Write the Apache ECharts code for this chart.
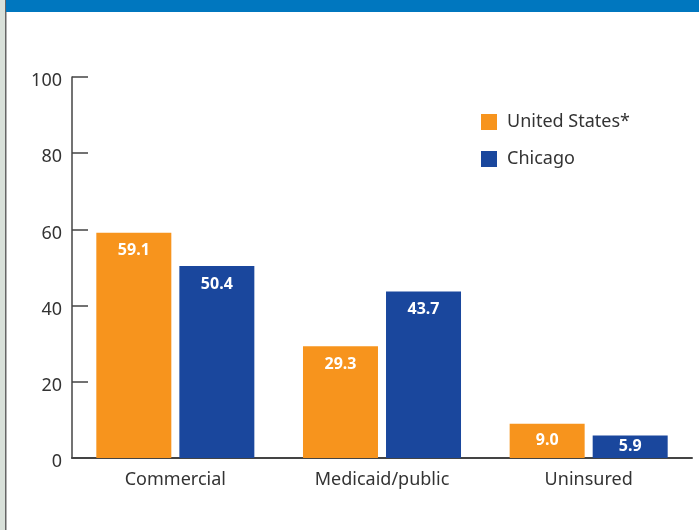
<!DOCTYPE html>
<html>
  <head>
    <meta charset="UTF-8">
    <title>Insurance coverage</title>
    <script src="https://cdn.jsdelivr.net/npm/echarts@6/dist/echarts.min.js"></script>
    <style>
    * {
      margin: 0;
      padding: 0;
    }
    </style>
  </head>
  <body>
    <div id="main" style="width: 699px;height: 530px"></div>
    <script>
// data
var categories = ['Commercial', 'Medicaid/public', 'Uninsured']
var usValues = [59.1, 29.3, 9.0]
var chicagoValues = [50.4, 43.7, 5.9]
var seriesNames = ['United States*', 'Chicago']

var font = 'Noto Sans'
var orange = '#F7941D'
var blue = '#1A479D'
var axisColor = '#444'

var myChart = echarts.init(document.getElementById('main'))

// short bars get their label centred, tall ones near the top
function toBarData(values) {
  return values.map(v => ({
    value: v,
    label: v < 15 ? { position: 'inside' } : {}
  }))
}

function barLabel() {
  return {
    show: true,
    position: 'insideTop',
    distance: 10,
    color: '#fff',
    fontWeight: 'bold',
    fontSize: 16,
    fontFamily: font,
    formatter: p => p.value.toFixed(1)
  }
}

var option = {
  backgroundColor: '#fff',
  animation: false,
  graphic: [
    // left strip and frame line
    { type: 'rect', shape: { x: 0, y: 0, width: 5, height: 530 }, style: { fill: '#D9E1DA' } },
    { type: 'rect', shape: { x: 5, y: 0, width: 1.5, height: 530 }, style: { fill: '#666' } },
    // top blue band
    { type: 'rect', shape: { x: 6, y: 0, width: 693, height: 12 }, style: { fill: '#0077BF' } }
  ],
  legend: {
    orient: 'vertical',
    left: 476,
    top: 108,
    itemWidth: 16,
    itemHeight: 16,
    itemGap: 19,
    icon: 'rect',
    textStyle: { fontSize: 18, color: '#333', fontFamily: font, padding: [3, 0, 0, 5] },
    data: seriesNames
  },
  grid: {
    left: 72,
    right: 7,
    top: 77,
    bottom: 72
  },
  xAxis: {
    type: 'category',
    data: categories,
    axisLine: { lineStyle: { color: axisColor, width: 2 } },
    axisTick: { inside: true, length: 9, lineStyle: { color: axisColor, width: 1.5 } },
    axisLabel: { fontSize: 18, color: '#333', fontFamily: font, margin: 13 }
  },
  yAxis: {
    type: 'value',
    min: 0,
    max: 100,
    interval: 20,
    splitLine: { show: false },
    axisLine: { show: true, lineStyle: { color: axisColor, width: 1.5 } },
    axisTick: { show: true, inside: true, length: 16, lineStyle: { color: axisColor, width: 1.5 } },
    axisLabel: {
      fontSize: 18, color: '#333', fontFamily: font, margin: 10,
      verticalAlign: 'top', lineHeight: 8
    }
  },
  series: [
    {
      name: seriesNames[0],
      type: 'bar',
      data: toBarData(usValues),
      barWidth: 75,
      barGap: '10.7%',
      itemStyle: { color: orange },
      label: barLabel()
    },
    {
      name: seriesNames[1],
      type: 'bar',
      data: toBarData(chicagoValues),
      barWidth: 75,
      itemStyle: { color: blue },
      label: barLabel()
    }
  ]
}
myChart.setOption(option)
    </script>
  </body>
</html>
